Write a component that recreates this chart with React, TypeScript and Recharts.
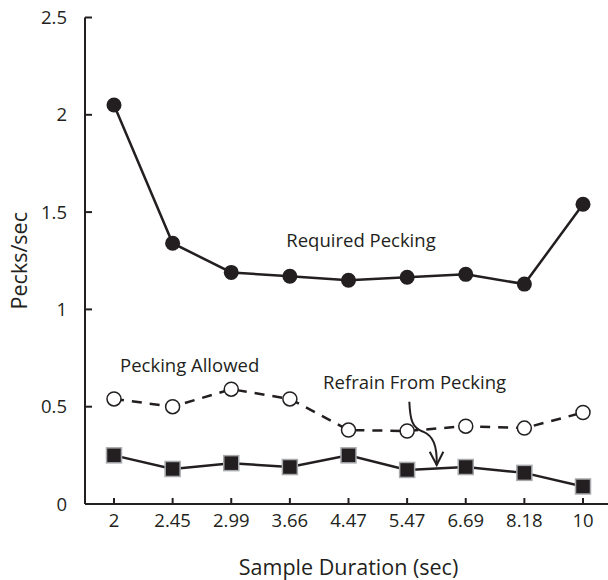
import { LineChart, Line, XAxis, YAxis, ReferenceDot } from "recharts";

const INK = "#231f20";
const FONT = "'Open Sans', sans-serif";

// sample durations (sec), used as categories on the x axis
const durations = ["2", "2.45", "2.99", "3.66", "4.47", "5.47", "6.69", "8.18", "10"];

// pecks/sec per condition
const requiredPecking = [2.05, 1.34, 1.19, 1.17, 1.15, 1.165, 1.18, 1.13, 1.54];
const peckingAllowed = [0.54, 0.5, 0.59, 0.54, 0.38, 0.375, 0.4, 0.39, 0.47];
const refrainFromPecking = [0.25, 0.18, 0.21, 0.19, 0.25, 0.175, 0.19, 0.16, 0.09];

const yTicks = [0, 0.5, 1, 1.5, 2, 2.5];

// in-plot series labels, anchored to a category + value
const notes = [
  { text: "Required Pecking", at: "4.47", value: 1.32, dx: 12.5 },
  { text: "Pecking Allowed", at: "2.45", value: 0.68, dx: 17 },
  { text: "Refrain From Pecking", at: "5.47", value: 0.59, dx: 7.5 },
];

const data = durations.map((d, i) => ({
  duration: d,
  required: requiredPecking[i],
  allowed: peckingAllowed[i],
  refrain: refrainFromPecking[i],
}));

const PAD_LEFT = 29;
const PAD_RIGHT = 25;

const FilledCircle = (p: any) => (
  <circle key={`fc-${p.index}`} cx={p.cx} cy={p.cy} r={7.5} fill={INK} />
);

const OpenCircle = (p: any) => (
  <circle key={`oc-${p.index}`} cx={p.cx} cy={p.cy} r={7} fill="#fff" stroke={INK} strokeWidth={1.5} />
);

const Square = (p: any) => (
  <rect
    key={`sq-${p.index}`}
    x={p.cx - 7.5}
    y={p.cy - 7.5}
    width={15}
    height={15}
    fill={INK}
    stroke="#a7a9ac"
    strokeWidth={1.5}
  />
);

// curved arrow pointing from the "Refrain" label down to its line
const Arrow = ({ cx, cy }: any) => (
  <g transform={`translate(${cx},${cy})`}>
    <path
      d="M2.2 -5 C3 13.3 5 21.3 16 25 C26 29.3 30 38.3 29.6 58.3"
      fill="none"
      stroke={INK}
      strokeWidth={2}
    />
    <path d="M22.6 45 L29.6 58.3 L36.2 45" fill="none" stroke={INK} strokeWidth={2} />
  </g>
);

export default function App() {
  return (
    <div style={{ position: "absolute", left: 0, top: 0, width: 608, height: 580 }}>
      <LineChart
        width={608}
        height={580}
        data={data}
        margin={{ top: 17.5, right: 0, bottom: 36, left: 25 }}
      >
        <XAxis
          dataKey="duration"
          scale="point"
          interval={0}
          padding={{ left: PAD_LEFT, right: PAD_RIGHT }}
          height={40}
          axisLine={{ stroke: INK, strokeWidth: 2 }}
          tickLine={{ stroke: INK, strokeWidth: 2 }}
          tickSize={-6}
          tickMargin={16}
          tick={{ fill: INK, fontSize: 18.5, fontFamily: FONT }}
          label={{
            content: ({ viewBox }: any) => (
              <text
                x={viewBox.x + viewBox.width / 2 + (PAD_LEFT - PAD_RIGHT) / 2}
                y={viewBox.y + 70.5}
                textAnchor="middle"
                fill={INK}
                fontSize={21.5}
                fontFamily={FONT}
              >
                Sample Duration (sec)
              </text>
            ),
          }}
        />
        <YAxis
          domain={[0, 2.5]}
          ticks={yTicks}
          width={60}
          axisLine={{ stroke: INK, strokeWidth: 2 }}
          tickLine={{ stroke: INK, strokeWidth: 2 }}
          tickSize={-7}
          tickMargin={25}
          tick={{ fill: INK, fontSize: 18.5, fontFamily: FONT }}
          label={{
            content: ({ viewBox }: any) => (
              <text
                transform={`translate(${viewBox.x + 2},${viewBox.y + viewBox.height / 2}) rotate(-90)`}
                textAnchor="middle"
                fill={INK}
                fontSize={21.5}
                fontFamily={FONT}
              >
                Pecks/sec
              </text>
            ),
          }}
        />

        <Line
          dataKey="refrain"
          stroke={INK}
          strokeWidth={2.5}
          dot={Square}
          activeDot={false}
          isAnimationActive={false}
        />
        <Line
          dataKey="allowed"
          stroke={INK}
          strokeWidth={2.5}
          strokeDasharray="10 8"
          dot={OpenCircle}
          activeDot={false}
          isAnimationActive={false}
        />
        <Line
          dataKey="required"
          stroke={INK}
          strokeWidth={2.5}
          dot={FilledCircle}
          activeDot={false}
          isAnimationActive={false}
        />

        {notes.map((n) => (
          <ReferenceDot
            key={n.text}
            x={n.at}
            y={n.value}
            shape={({ cx, cy }: any) => (
              <text
                x={cx + n.dx}
                y={cy}
                textAnchor="middle"
                fill={INK}
                fontSize={18.5}
                fontFamily={FONT}
              >
                {n.text}
              </text>
            )}
          />
        ))}
        <ReferenceDot x="5.47" y={0.5} shape={Arrow} />
      </LineChart>
    </div>
  );
}
